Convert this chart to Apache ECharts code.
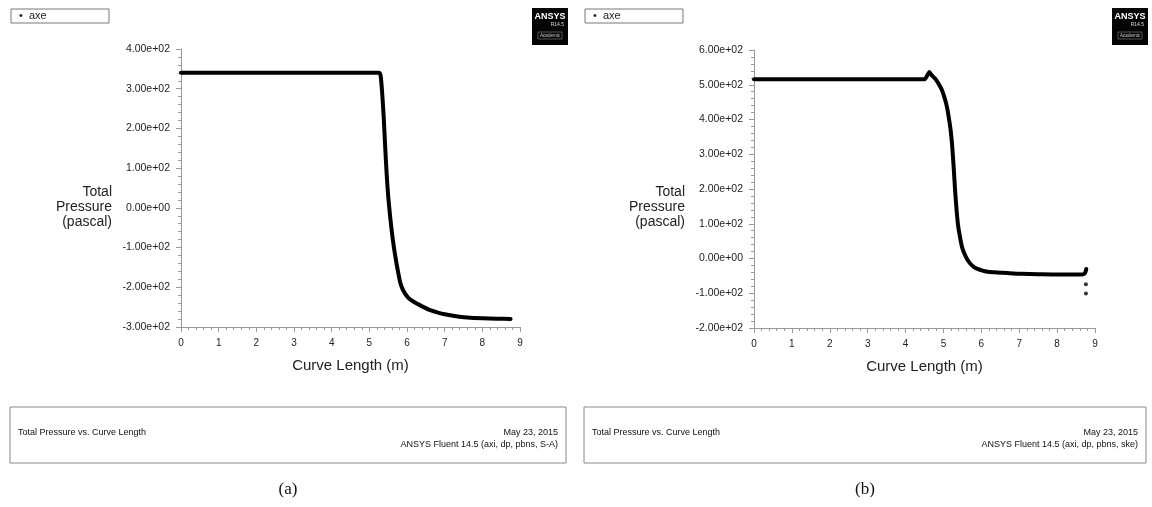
<!DOCTYPE html>
<html><head><meta charset="utf-8">
<script src="https://cdn.jsdelivr.net/npm/echarts@6/dist/echarts.min.js"></script>
<style>html,body{margin:0;padding:0;background:#fff}#c{width:1152px;height:507px}</style>
</head><body><div id="c"></div>
<script>
// Panel (a): S-A model
const xA = [0, 5.26, 5.29, 5.31, 5.34, 5.38, 5.42, 5.46, 5.5, 5.55, 5.6, 5.65, 5.7, 5.76, 5.82, 5.88, 5.95, 6.03, 6.12, 6.26, 6.4, 6.6, 6.8, 7.0, 7.3, 7.6, 8.0, 8.4, 8.75];
const yA = [340, 340, 337, 325, 290, 231, 155, 85, 30, -20, -62, -98, -128, -160, -188, -204, -216, -226, -233, -241, -248, -257, -263, -268, -273, -276, -278, -279, -280];
// Panel (b): k-epsilon model
const xB = [0, 4.5, 4.55, 4.6, 4.63, 4.67, 4.72, 4.78, 4.86, 4.96, 5.03, 5.08, 5.12, 5.16, 5.19, 5.23, 5.27, 5.31, 5.35, 5.39, 5.44, 5.49, 5.56, 5.63, 5.71, 5.8, 5.9, 6.03, 6.16, 6.4, 6.7, 7.04, 7.5, 8.0, 8.5, 8.66, 8.72, 8.75, 8.77];
const yB = [516, 516, 522, 532, 537, 530, 524, 518, 505, 485, 462, 442, 420, 392, 369, 325, 262, 192, 135, 92, 60, 33, 12, -3, -15, -24, -30, -35, -38, -40, -42, -44, -45, -46, -46, -46, -44, -38, -30];
const xBextra = [8.76, 8.76];
const yBextra = [-74, -101];
const yRangeA = [-300, 400];
const yRangeB = [-200, 600];
const xRange = [0, 9];
const seriesName = 'axe';
const yTitle = 'Total\nPressure\n(pascal)';
const xTitle = 'Curve Length (m)';
const plotTitle = 'Total Pressure vs. Curve Length';
const dateText = 'May 23, 2015';
const solverA = 'ANSYS Fluent 14.5 (axi, dp, pbns, S-A)';
const solverB = 'ANSYS Fluent 14.5 (axi, dp, pbns, ske)';
const captions = ['(a)', '(b)'];

function sci(v) {
  if (v === 0) return '0.00e+00';
  const e = Math.floor(Math.log10(Math.abs(v)) + 1e-9);
  const m = v / Math.pow(10, e);
  return m.toFixed(2) + 'e' + (e < 0 ? '-' : '+') + String(Math.abs(e)).padStart(2, '0');
}
const zip = (xs, ys) => xs.map((x, i) => [x, ys[i]]);
const FONT = '"Liberation Sans", Arial, sans-serif';
const axisCol = '#999';
const lblCol = '#222';

function xAxisCfg(idx) {
  return {
    gridIndex: idx, type: 'value', min: xRange[0], max: xRange[1], interval: 1,
    name: xTitle, nameLocation: 'middle', nameGap: 31,
    nameTextStyle: { fontFamily: FONT, fontSize: 15, color: '#222' },
    axisLine: { onZero: false, lineStyle: { color: axisCol, width: 1 } },
    axisTick: { show: true, length: 5, lineStyle: { color: axisCol } },
    minorTick: { show: true, splitNumber: 5, length: 3, lineStyle: { color: axisCol } },
    splitLine: { show: false },
    axisLabel: { fontFamily: FONT, fontSize: 10, color: lblCol, margin: 11 }
  };
}
function yAxisCfg(idx, r) {
  return {
    gridIndex: idx, type: 'value', min: r[0], max: r[1], interval: 100,
    axisLine: { onZero: false, lineStyle: { color: axisCol, width: 1 } },
    axisTick: { show: true, length: 5, lineStyle: { color: axisCol } },
    minorTick: { show: true, splitNumber: 5, length: 3, lineStyle: { color: axisCol } },
    splitLine: { show: false },
    axisLabel: { fontFamily: FONT, fontSize: 10.5, color: lblCol, margin: 11, formatter: sci }
  };
}
function lineSeries(idx, data) {
  return {
    name: seriesName, type: 'line', xAxisIndex: idx, yAxisIndex: idx, data: data,
    showSymbol: false, smooth: 0.2, animation: false,
    lineStyle: { color: '#000', width: 4, cap: 'round', join: 'round' }
  };
}

function panelGraphics(ox, axisX, solver, caption, boxRight) {
  const g = [];
  g.push({ type: 'rect', shape: { x: ox + 11, y: 9, width: 98, height: 14 }, style: { fill: '#fff', stroke: '#777', lineWidth: 1 } });
  g.push({ type: 'text', x: ox + 19, y: 16, style: { text: '•  ' + seriesName, font: '11px ' + FONT, fill: '#222', textVerticalAlign: 'middle' } });
  const lx = boxRight - 34;
  g.push({ type: 'rect', shape: { x: lx, y: 8, width: 36, height: 37 }, style: { fill: '#050505' } });
  g.push({ type: 'text', x: lx + 18, y: 17, style: { text: 'ANSYS', font: 'bold 9px ' + FONT, fill: '#fff', textAlign: 'center', textVerticalAlign: 'middle' } });
  g.push({ type: 'text', x: lx + 32, y: 25, style: { text: 'R14.5', font: '5px ' + FONT, fill: '#ddd', textAlign: 'right', textVerticalAlign: 'middle' } });
  g.push({ type: 'rect', shape: { x: lx + 6, y: 32, width: 24, height: 7 }, style: { fill: 'none', stroke: '#888', lineWidth: 0.6 } });
  g.push({ type: 'text', x: lx + 18, y: 35.5, style: { text: 'Academic', font: '4.5px ' + FONT, fill: '#ccc', textAlign: 'center', textVerticalAlign: 'middle' } });
  g.push({ type: 'text', x: axisX - 69, y: 207, style: { text: yTitle, font: '14px ' + FONT, fill: '#222', textAlign: 'right', textVerticalAlign: 'middle', lineHeight: 15 } });
  g.push({ type: 'rect', shape: { x: ox + 10, y: 407, width: boxRight - ox - 10, height: 56 }, style: { fill: '#fff', stroke: '#888', lineWidth: 1 } });
  g.push({ type: 'text', x: ox + 18, y: 433, style: { text: plotTitle, font: '9px ' + FONT, fill: '#111', textVerticalAlign: 'middle' } });
  g.push({ type: 'text', x: boxRight - 8, y: 433, style: { text: dateText, font: '9px ' + FONT, fill: '#111', textAlign: 'right', textVerticalAlign: 'middle' } });
  g.push({ type: 'text', x: boxRight - 8, y: 445, style: { text: solver, font: '9px ' + FONT, fill: '#111', textAlign: 'right', textVerticalAlign: 'middle' } });
  g.push({ type: 'text', x: (ox + 10 + boxRight) / 2, y: 490, style: { text: caption, font: '17px "Liberation Serif", "Times New Roman", serif', fill: '#111', textAlign: 'center', textVerticalAlign: 'middle' } });
  return g;
}

const chart = echarts.init(document.getElementById('c'));
chart.setOption({
  animation: false,
  backgroundColor: '#fff',
  grid: [
    { left: 181, top: 49, width: 339, height: 278 },
    { left: 754, top: 50, width: 341, height: 278 }
  ],
  xAxis: [xAxisCfg(0), xAxisCfg(1)],
  yAxis: [yAxisCfg(0, yRangeA), yAxisCfg(1, yRangeB)],
  series: [
    lineSeries(0, zip(xA, yA)),
    lineSeries(1, zip(xB, yB)),
    { name: seriesName, type: 'scatter', xAxisIndex: 1, yAxisIndex: 1, data: zip(xBextra, yBextra),
      symbol: 'circle', symbolSize: 4, itemStyle: { color: '#000' }, animation: false }
  ],
  graphic: panelGraphics(0, 181, solverA, captions[0], 566).concat(panelGraphics(574, 754, solverB, captions[1], 1146))
});
</script>
</body></html>
